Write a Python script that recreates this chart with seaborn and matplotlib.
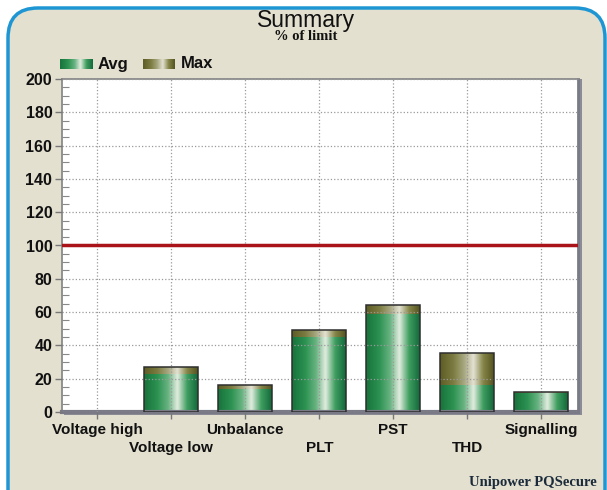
import numpy as np
import pandas as pd
import matplotlib
matplotlib.use("Agg")
import matplotlib.pyplot as plt
import seaborn as sns
from matplotlib.colors import LinearSegmentedColormap
from matplotlib.patches import FancyBboxPatch, Rectangle
from matplotlib.ticker import MultipleLocator

categories = ["Voltage high", "Voltage low", "Unbalance", "PLT", "PST", "THD", "Signalling"]
avg_vals = [0, 23, 14, 45, 59, 16, 11.5]
max_vals = [0, 27, 16.5, 49, 64.5, 35.5, 12]
limit = 100

sns.set_theme(style="white")
plt.rcParams["font.family"] = ["Liberation Sans", "DejaVu Sans"]

bg = "#E3E0CF"
fig = plt.figure(figsize=(6.07, 4.9), dpi=100)
fig.patch.set_facecolor("white")

# rounded blue frame
frame = FancyBboxPatch((0.08, -0.3), 5.97, 5.12, boxstyle="round,pad=0,rounding_size=0.3",
                       transform=fig.dpi_scale_trans, facecolor=bg, edgecolor="#1E96D4",
                       linewidth=2.5, zorder=-2)
fig.patches.append(frame)

# shadow behind the plot area
shadow = Rectangle((64 / 607, 1 - 415 / 490), 518 / 607, 336 / 490, transform=fig.transFigure,
                   facecolor="#8C8C96", edgecolor="none", zorder=-1)
fig.patches.append(shadow)

ax = fig.add_axes([62 / 607, 1 - 412 / 490, (578 - 62) / 607, (412 - 79) / 490])
ax.set_facecolor("white")

df = pd.DataFrame({"cat": categories, "avg": avg_vals, "max": max_vals})
sns.barplot(data=df, x="cat", y="max", color="#777733", width=0.73, ax=ax)
n = len(ax.patches)
sns.barplot(data=df, x="cat", y="avg", color="#228844", width=0.73, ax=ax)
max_bars = ax.patches[:n]
avg_bars = ax.patches[n:]

cm_avg = LinearSegmentedColormap.from_list(
    "avg", [(0, "#17733B"), (0.25, "#2C9252"), (0.45, "#6AB482"), (0.62, "#E2EDE0"),
            (0.8, "#3F9E60"), (1, "#12693A")])
cm_max = LinearSegmentedColormap.from_list(
    "max", [(0, "#5C5C24"), (0.25, "#7C7C42"), (0.45, "#A8A882"), (0.62, "#E4E2D2"),
            (0.8, "#86864A"), (1, "#53531E")])
grad = np.linspace(0, 1, 256).reshape(1, -1)


def shade(bars, cmap, z):
    for p in bars:
        h = p.get_height()
        if h <= 0:
            p.set_visible(False)
            continue
        x0, w = p.get_x(), p.get_width()
        im = ax.imshow(grad, cmap=cmap, extent=(x0, x0 + w, 0, h), aspect="auto",
                       zorder=z, interpolation="bicubic")
        im.set_clip_path(p)
        p.set_facecolor("none")


shade(max_bars, cm_max, 1.0)
shade(avg_bars, cm_avg, 1.2)
for p in avg_bars:
    p.set_edgecolor("none")
for p in max_bars:
    p.set_edgecolor("#2E2E2E")
    p.set_linewidth(1.1)
    p.set_zorder(3)

ax.axhline(limit, color="#A8141A", linewidth=2.5, zorder=4)

ax.set_xlim(-0.48, 6.5)
ax.set_ylim(0, 200)
ax.yaxis.set_major_locator(MultipleLocator(20))
ax.yaxis.set_minor_locator(MultipleLocator(5))
ax.set_axisbelow(False)
ax.grid(True, which="major", color="#9A9A9A", linestyle=":", linewidth=0.9)
ax.set_xlabel("")
ax.set_ylabel("")

ax.set_xticks(range(len(categories)))
ax.set_xticklabels(categories, fontsize=11, fontweight="bold", color="#111111")
ax.tick_params(axis="x", which="major", direction="out", length=5, width=1, color="#777777", pad=3, bottom=True)
# staggered labels: odd categories sit one row lower
for i, t in enumerate(ax.xaxis.get_major_ticks()):
    if i % 2 == 1:
        t.set_pad(16)
ax.tick_params(axis="y", which="major", direction="out", length=5, width=1, color="#777777", labelsize=11.5,
               pad=2, left=True)
ax.tick_params(axis="y", which="minor", direction="in", length=5, width=0.8, color="#888888", left=True)
for lab in ax.get_yticklabels():
    lab.set_fontweight("bold")
    lab.set_color("#111111")

for side in ["left", "top"]:
    ax.spines[side].set_color("#8A8A8A")
    ax.spines[side].set_linewidth(1.3)
ax.spines["bottom"].set_color("#7A7A86")
ax.spines["bottom"].set_linewidth(3)
ax.spines["right"].set_color("#7A7A86")
ax.spines["right"].set_linewidth(2)

fig.text(306 / 607, 1 - 20 / 490, "Summary", ha="center", va="center", fontsize=16.5, color="#111111")
fig.text(306 / 607, 1 - 37 / 490, "% of limit", ha="center", va="center", fontsize=10.5,
         fontweight="bold", family="Liberation Serif", color="#111111")
fig.text(597 / 607, 1 - 482 / 490, "Unipower PQSecure", ha="right", va="center", fontsize=10.5,
         fontweight="bold", family="Liberation Serif", color="#1A2A3A")

# legend swatches
for x0, cmap, name in [(60, cm_avg, "Avg"), (143, cm_max, "Max")]:
    lax = fig.add_axes([x0 / 607, 1 - 69 / 490, 32 / 607, 10 / 490])
    lax.imshow(grad, cmap=cmap, aspect="auto", interpolation="bicubic")
    lax.set_axis_off()
    fig.text((x0 + 38) / 607, 1 - 64 / 490, name, ha="left", va="center", fontsize=12,
             fontweight="bold", color="#111111")

fig.savefig("out.png", dpi=100, facecolor=fig.get_facecolor())
